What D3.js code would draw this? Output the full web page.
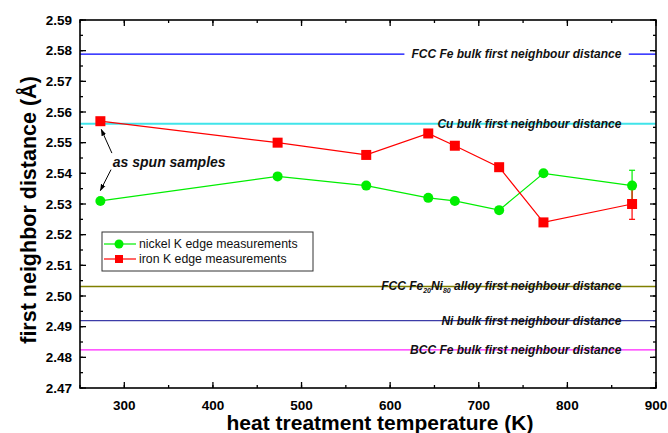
<!DOCTYPE html>
<html>
<head>
<meta charset="utf-8">
<script src="https://cdn.jsdelivr.net/npm/d3@7"></script>
<style>
  body { margin: 0; background: #fff; }
  svg { display: block; font-family: "Liberation Sans", Arial, sans-serif; }
</style>
</head>
<body>
<div id="wrapper"></div>
<script>
// DATA
const temps = [273, 473, 573, 643, 673, 723, 773, 873];
const nickel = [2.531, 2.539, 2.536, 2.532, 2.531, 2.528, 2.540, 2.536];
const iron = [2.557, 2.550, 2.546, 2.553, 2.549, 2.542, 2.524, 2.530];
const nickelErr = [0, 0, 0, 0, 0, 0, 0, 0.005];
const ironErr = [0, 0, 0, 0, 0, 0, 0, 0.005];

const refNames = ["FCC Fe bulk first neighbour distance", "Cu bulk first neighbour distance",
  "FCC Fe|20|Ni|80| alloy first neighbour distance", "Ni bulk first neighbour distance",
  "BCC Fe bulk first neighbour distance"];
const refValues = [2.5789, 2.5562, 2.5031, 2.4920, 2.4824];
const refColors = ["#0000ff", "#40e4ea", "#808000", "#3c3ca8", "#ff22ff"];

const xTicks = [300, 400, 500, 600, 700, 800, 900];
const yTicks = [2.47, 2.48, 2.49, 2.50, 2.51, 2.52, 2.53, 2.54, 2.55, 2.56, 2.57, 2.58, 2.59];

function drawChart() {
  const dimensions = {
    width: 668,
    height: 433,
    margin: { top: 20, right: 12, bottom: 45, left: 80 }
  };
  dimensions.boundedWidth = dimensions.width - dimensions.margin.left - dimensions.margin.right;
  dimensions.boundedHeight = dimensions.height - dimensions.margin.top - dimensions.margin.bottom;

  const wrapper = d3.select("#wrapper").append("svg")
    .attr("width", dimensions.width)
    .attr("height", dimensions.height);

  const bounds = wrapper.append("g")
    .attr("transform", `translate(${dimensions.margin.left},${dimensions.margin.top})`);

  // SCALES
  const xScale = d3.scaleLinear().domain([250, 900]).range([0, dimensions.boundedWidth]);
  const yScale = d3.scaleLinear().domain([2.47, 2.59]).range([dimensions.boundedHeight, 0]);

  // reference lines with white gaps behind labels
  const labelEnd = xScale(861);
  refValues.forEach((v, i) => {
    const y = yScale(v);
    bounds.append("line")
      .attr("x1", 0).attr("x2", dimensions.boundedWidth)
      .attr("y1", y).attr("y2", y)
      .attr("stroke", refColors[i]).attr("stroke-width", i === 1 ? 2 : 1.3);
    const t = bounds.append("text")
      .attr("x", labelEnd).attr("y", y + 4)
      .attr("text-anchor", "end")
      .attr("font-size", 12).attr("font-weight", "bold").attr("font-style", "italic")
      .attr("fill", "#111");
    const parts = refNames[i].split("|");
    parts.forEach((p, j) => {
      const sub = j % 2 === 1;
      t.append("tspan")
        .attr("font-size", sub ? 7 : 12)
        .attr("dy", sub ? 3 : (j > 0 ? -3 : 0))
        .text(p);
    });
    const bb = t.node().getBBox();
    bounds.insert("rect", "text")
      .attr("x", bb.x - 7).attr("y", y - 3)
      .attr("width", bb.width + 14).attr("height", 6)
      .attr("fill", "#fff");
  });

  // AXES (ticks inward, mirrored)
  const axisG = bounds.append("g");
  const xMinor = d3.range(250, 901, 50);
  const yMinor = d3.range(0, 25).map(i => +(2.47 + i * 0.005).toFixed(3));
  const mk = (scale, vals, len, orient) => {
    vals.forEach(v => {
      const p = scale(v);
      if (orient === "x") {
        axisG.append("line").attr("x1", p).attr("x2", p).attr("y1", dimensions.boundedHeight).attr("y2", dimensions.boundedHeight - len).attr("stroke", "#000").attr("stroke-width", 1.3);
        axisG.append("line").attr("x1", p).attr("x2", p).attr("y1", 0).attr("y2", len).attr("stroke", "#000").attr("stroke-width", 1.3);
      } else {
        axisG.append("line").attr("y1", p).attr("y2", p).attr("x1", 0).attr("x2", len).attr("stroke", "#000").attr("stroke-width", 1.3);
        axisG.append("line").attr("y1", p).attr("y2", p).attr("x1", dimensions.boundedWidth).attr("x2", dimensions.boundedWidth - len).attr("stroke", "#000").attr("stroke-width", 1.3);
      }
    });
  };
  mk(xScale, xMinor, 3, "x");
  mk(xScale, xTicks, 6, "x");
  mk(yScale, yMinor, 3, "y");
  mk(yScale, yTicks, 6, "y");

  axisG.selectAll(".xl").data(xTicks).enter().append("text")
    .attr("x", d => xScale(d)).attr("y", dimensions.boundedHeight + 21.5)
    .attr("text-anchor", "middle").attr("font-size", 13.5).attr("font-weight", "bold")
    .text(d => d);
  axisG.selectAll(".yl").data(yTicks).enter().append("text")
    .attr("x", -8).attr("y", d => yScale(d) + 4.7)
    .attr("text-anchor", "end").attr("font-size", 13.5).attr("font-weight", "bold")
    .text(d => d3.format(".2f")(d));

  bounds.append("rect")
    .attr("width", dimensions.boundedWidth).attr("height", dimensions.boundedHeight)
    .attr("fill", "none").attr("stroke", "#000").attr("stroke-width", 1.6);

  // axis titles
  wrapper.append("text")
    .attr("x", 380).attr("y", 430)
    .attr("text-anchor", "middle").attr("font-size", 21).attr("font-weight", "bold")
    .text("heat treatment temperature (K)");
  wrapper.append("text")
    .attr("transform", `translate(36,210) rotate(-90)`)
    .attr("text-anchor", "middle").attr("font-size", 21.5).attr("font-weight", "bold")
    .text("first neighbor distance (Å)");

  // SERIES
  const series = [
    { name: "nickel K edge measurements", values: nickel, err: nickelErr, color: "#00ee00", shape: "circle" },
    { name: "iron K edge measurements", values: iron, err: ironErr, color: "#ff0000", shape: "square" }
  ];
  const line = d3.line().x(d => xScale(d[0])).y(d => yScale(d[1]));

  series.forEach(s => {
    const pts = temps.map((t, i) => [t, s.values[i], s.err[i]]);
    bounds.append("path").attr("d", line(pts))
      .attr("fill", "none").attr("stroke", s.color).attr("stroke-width", 1.2);
    pts.filter(d => d[2] > 0).forEach(d => {
      const x = xScale(d[0]), y1 = yScale(d[1] + d[2]), y2 = yScale(d[1] - d[2]);
      const g = bounds.append("g").attr("stroke", s.color).attr("stroke-width", 1.2);
      g.append("line").attr("x1", x).attr("x2", x).attr("y1", y1).attr("y2", y2);
      g.append("line").attr("x1", x - 3).attr("x2", x + 3).attr("y1", y1).attr("y2", y1);
      g.append("line").attr("x1", x - 3).attr("x2", x + 3).attr("y1", y2).attr("y2", y2);
    });
  });
  series.forEach(s => {
    const pts = temps.map((t, i) => [t, s.values[i]]);
    if (s.shape === "circle") {
      bounds.selectAll(null).data(pts).enter().append("circle")
        .attr("cx", d => xScale(d[0])).attr("cy", d => yScale(d[1])).attr("r", 5)
        .attr("fill", s.color);
    } else {
      bounds.selectAll(null).data(pts).enter().append("rect")
        .attr("x", d => xScale(d[0]) - 5).attr("y", d => yScale(d[1]) - 5)
        .attr("width", 10).attr("height", 10).attr("fill", s.color);
    }
  });

  // annotation: as spun samples
  const defs = wrapper.append("defs");
  defs.append("marker").attr("id", "arr").attr("viewBox", "0 0 10 10")
    .attr("refX", 9).attr("refY", 5).attr("markerWidth", 7).attr("markerHeight", 7)
    .attr("orient", "auto")
    .append("path").attr("d", "M0,1.5 L10,5 L0,8.5 Z").attr("fill", "#000");
  const arrows = [[[286, 2.5466], [274, 2.5543]], [[285, 2.5412], [273, 2.5344]]];
  arrows.forEach(a => {
    bounds.append("line")
      .attr("x1", xScale(a[0][0])).attr("y1", yScale(a[0][1]))
      .attr("x2", xScale(a[1][0])).attr("y2", yScale(a[1][1]))
      .attr("stroke", "#000").attr("stroke-width", 1).attr("marker-end", "url(#arr)");
  });
  bounds.append("text")
    .attr("x", xScale(287)).attr("y", yScale(2.5438) + 5)
    .attr("font-size", 14).attr("font-weight", "bold").attr("font-style", "italic")
    .attr("fill", "#111")
    .text("as spun samples");

  // LEGEND
  const legend = wrapper.append("g").attr("transform", "translate(102,232)");
  legend.append("rect").attr("width", 211).attr("height", 39)
    .attr("fill", "#fff").attr("stroke", "#333").attr("stroke-width", 1);
  series.forEach((s, i) => {
    const y = 12 + i * 15;
    legend.append("line").attr("x1", 2).attr("x2", 34).attr("y1", y).attr("y2", y)
      .attr("stroke", s.color).attr("stroke-width", 1.2);
    if (s.shape === "circle") {
      legend.append("circle").attr("cx", 17).attr("cy", y).attr("r", 4.5).attr("fill", s.color);
    } else {
      legend.append("rect").attr("x", 13).attr("y", y - 4).attr("width", 8).attr("height", 8).attr("fill", s.color);
    }
    legend.append("text").attr("x", 37).attr("y", y + 4)
      .attr("font-size", 12.3).attr("fill", "#111").text(s.name);
  });
}
drawChart();
</script>
</body>
</html>
